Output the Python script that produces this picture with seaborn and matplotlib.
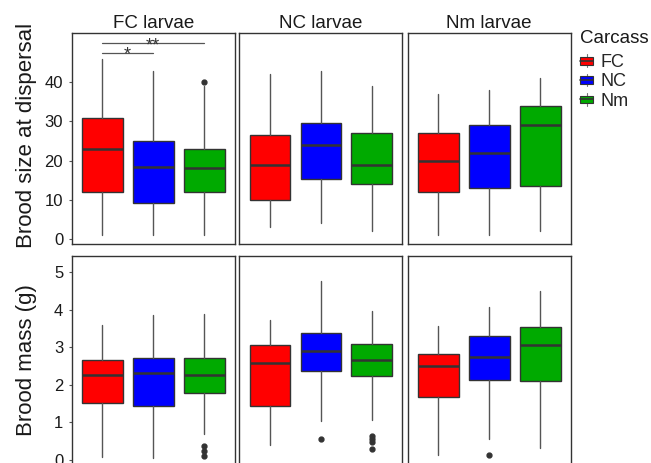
import numpy as np
import pandas as pd
import matplotlib
matplotlib.use("Agg")
import matplotlib.pyplot as plt
import seaborn as sns
from matplotlib.legend_handler import HandlerBase
from matplotlib.patches import Rectangle, Patch
from matplotlib.lines import Line2D

# ---------------- data ----------------
carcass = ["FC", "NC", "Nm"]
larvae_panels = ["FC larvae", "NC larvae", "Nm larvae"]
carcass_colors = ["#FF0000", "#0000FF", "#00AA00"]

# Brood size at dispersal: [panel][carcass]
size_whislo = [[1, 1, 1], [3, 4, 2], [1, 1, 2]]
size_q1 = [[12, 9.3, 12], [10, 15.2, 14], [12, 13, 13.5]]
size_med = [[23, 18.5, 18], [19, 24, 19], [20, 22, 29]]
size_q3 = [[31, 25, 23], [26.5, 29.7, 27], [27, 29, 34]]
size_whishi = [[46, 43, 39], [42, 43, 39], [37, 38, 41]]
size_fliers = [[[], [], [40]], [[], [], []], [[], [], []]]

# Brood mass (g): [panel][carcass]
mass_whislo = [[0.09, 0.06, 0.70], [0.39, 1.04, 1.06], [0.15, 0.55, 0.31]]
mass_q1 = [[1.52, 1.44, 1.79], [1.45, 2.38, 2.23], [1.68, 2.13, 2.10]]
mass_med = [[2.27, 2.32, 2.25], [2.58, 2.89, 2.66], [2.51, 2.74, 3.05]]
mass_q3 = [[2.65, 2.71, 2.71], [3.05, 3.38, 3.09], [2.83, 3.29, 3.53]]
mass_whishi = [[3.60, 3.85, 3.87], [3.73, 4.75, 3.97], [3.57, 4.08, 4.50]]
mass_fliers = [[[], [], [0.37, 0.25, 0.11]],
               [[], [0.55], [0.64, 0.55, 0.47, 0.29]],
               [[], [0.13], []]]

# significance brackets (first panel)
sig_from = [0, 0]
sig_to = [1, 2]
sig_labels = ["*", "**"]
sig_y = [47.5, 50.0]

size_ticks = [0, 10, 20, 30, 40]
mass_ticks = [0, 1, 2, 3, 4, 5]

# ---------------- style ----------------
sns.set_theme(style="white")
plt.rcParams["font.family"] = ["Liberation Sans", "DejaVu Sans"]

W, H = 651, 463
fig = plt.figure(figsize=(W / 100, H / 100), dpi=100)

col_left = [71.7, 239.4, 407.7]
col_w = 163.0
row_top = [33.3, 255.7]
row_h = 210.7

EDGE = "#333333"


def make_stats(wl, q1, md, q3, wh, fl, p):
    out = []
    for c in range(len(carcass)):
        out.append(dict(whislo=wl[p][c], q1=q1[p][c], med=md[p][c],
                        q3=q3[p][c], whishi=wh[p][c], fliers=fl[p][c],
                        label=carcass[c]))
    return out


rows = [
    dict(data=(size_whislo, size_q1, size_med, size_q3, size_whishi, size_fliers),
         ylim=(-1.28, 52.5), ticks=size_ticks, label="Brood size at dispersal", ly=0.515),
    dict(data=(mass_whislo, mass_q1, mass_med, mass_q3, mass_whishi, mass_fliers),
         ylim=(-0.166, 5.43), ticks=mass_ticks, label="Brood mass (g)", ly=0.505),
]

axes = {}
for r, row in enumerate(rows):
    for p in range(3):
        left = col_left[p] / W
        bottom = (H - (row_top[r] + row_h)) / H
        ax = fig.add_axes([left, bottom, col_w / W, row_h / H])
        axes[(r, p)] = ax
        stats = make_stats(*row["data"], p)
        bp = ax.bxp(stats, positions=range(len(carcass)), widths=0.8,
                    patch_artist=True, showcaps=False,
                    boxprops=dict(edgecolor=EDGE, linewidth=1.0),
                    medianprops=dict(color=EDGE, linewidth=1.8),
                    whiskerprops=dict(color="#555555", linewidth=1.0),
                    flierprops=dict(marker="o", markerfacecolor=EDGE,
                                    markeredgecolor=EDGE, markersize=3.5))
        for patch, col in zip(bp["boxes"], carcass_colors):
            patch.set_facecolor(col)
        ax.set_xlim(-0.6, 2.6)
        ax.set_ylim(*row["ylim"])
        ax.set_xticks([])
        ax.set_yticks(row["ticks"])
        ax.tick_params(axis="y", left=(p == 0), length=2.5, width=0.8,
                       color="#555555", pad=3.6, labelsize=12,
                       labelcolor="#1a1a1a", labelleft=(p == 0))
        for s in ax.spines.values():
            s.set_color(EDGE)
            s.set_linewidth(1.0)
            s.set_visible(True)
        ax.grid(False)
        ax.set_facecolor("white")
        if r == 0:
            ax.set_title(larvae_panels[p], fontsize=13.5, pad=3.6, color="#1a1a1a")
        if p == 0:
            ax.set_ylabel(row["label"], fontsize=16, color="#1a1a1a")
            ax.yaxis.set_label_coords(-0.215, row["ly"])

# significance
ax0 = axes[(0, 0)]
for a, b, lab, y in zip(sig_from, sig_to, sig_labels, sig_y):
    ax0.plot([a, b], [y, y], color="#555555", linewidth=0.9)
    ax0.annotate(lab, xy=((a + b) / 2, y), xytext=(0, -5.0),
                 textcoords="offset points", ha="center", va="baseline",
                 fontsize=13, color="#333333")


# legend with boxplot-style keys
class BoxKeyHandler(HandlerBase):
    def create_artists(self, legend, orig_handle, xdescent, ydescent,
                       width, height, fontsize, trans):
        fc = orig_handle.get_facecolor()
        x0, y0 = -xdescent, -ydescent
        h = height
        rect = Rectangle((x0, y0 + 0.2 * h), width, 0.6 * h,
                         facecolor=fc, edgecolor=EDGE, linewidth=0.8,
                         transform=trans)
        med = Line2D([x0, x0 + width], [y0 + 0.5 * h] * 2, color=EDGE,
                     linewidth=1.2, transform=trans)
        w1 = Line2D([x0 + width / 2] * 2, [y0 + 0.8 * h, y0 + h],
                    color="#777777", linewidth=0.8, transform=trans)
        w2 = Line2D([x0 + width / 2] * 2, [y0, y0 + 0.2 * h],
                    color="#777777", linewidth=0.8, transform=trans)
        return [w1, w2, rect, med]


fig.text(580 / W, 1 - 43.3 / H, "Carcass", fontsize=13.5, color="#1a1a1a",
         ha="left", va="baseline")
handles = [Patch(facecolor=c, edgecolor=EDGE) for c in carcass_colors]
leg = fig.legend(handles, carcass,
                 loc="upper left", bbox_to_anchor=(580 / W, 1 - 54 / H),
                 frameon=False, fontsize=13,
                 handler_map={Patch: BoxKeyHandler()},
                 handlelength=0.72, handleheight=0.72, handletextpad=0.4,
                 labelspacing=0.13, borderpad=0, borderaxespad=0)

fig.savefig("out.png", dpi=100)
